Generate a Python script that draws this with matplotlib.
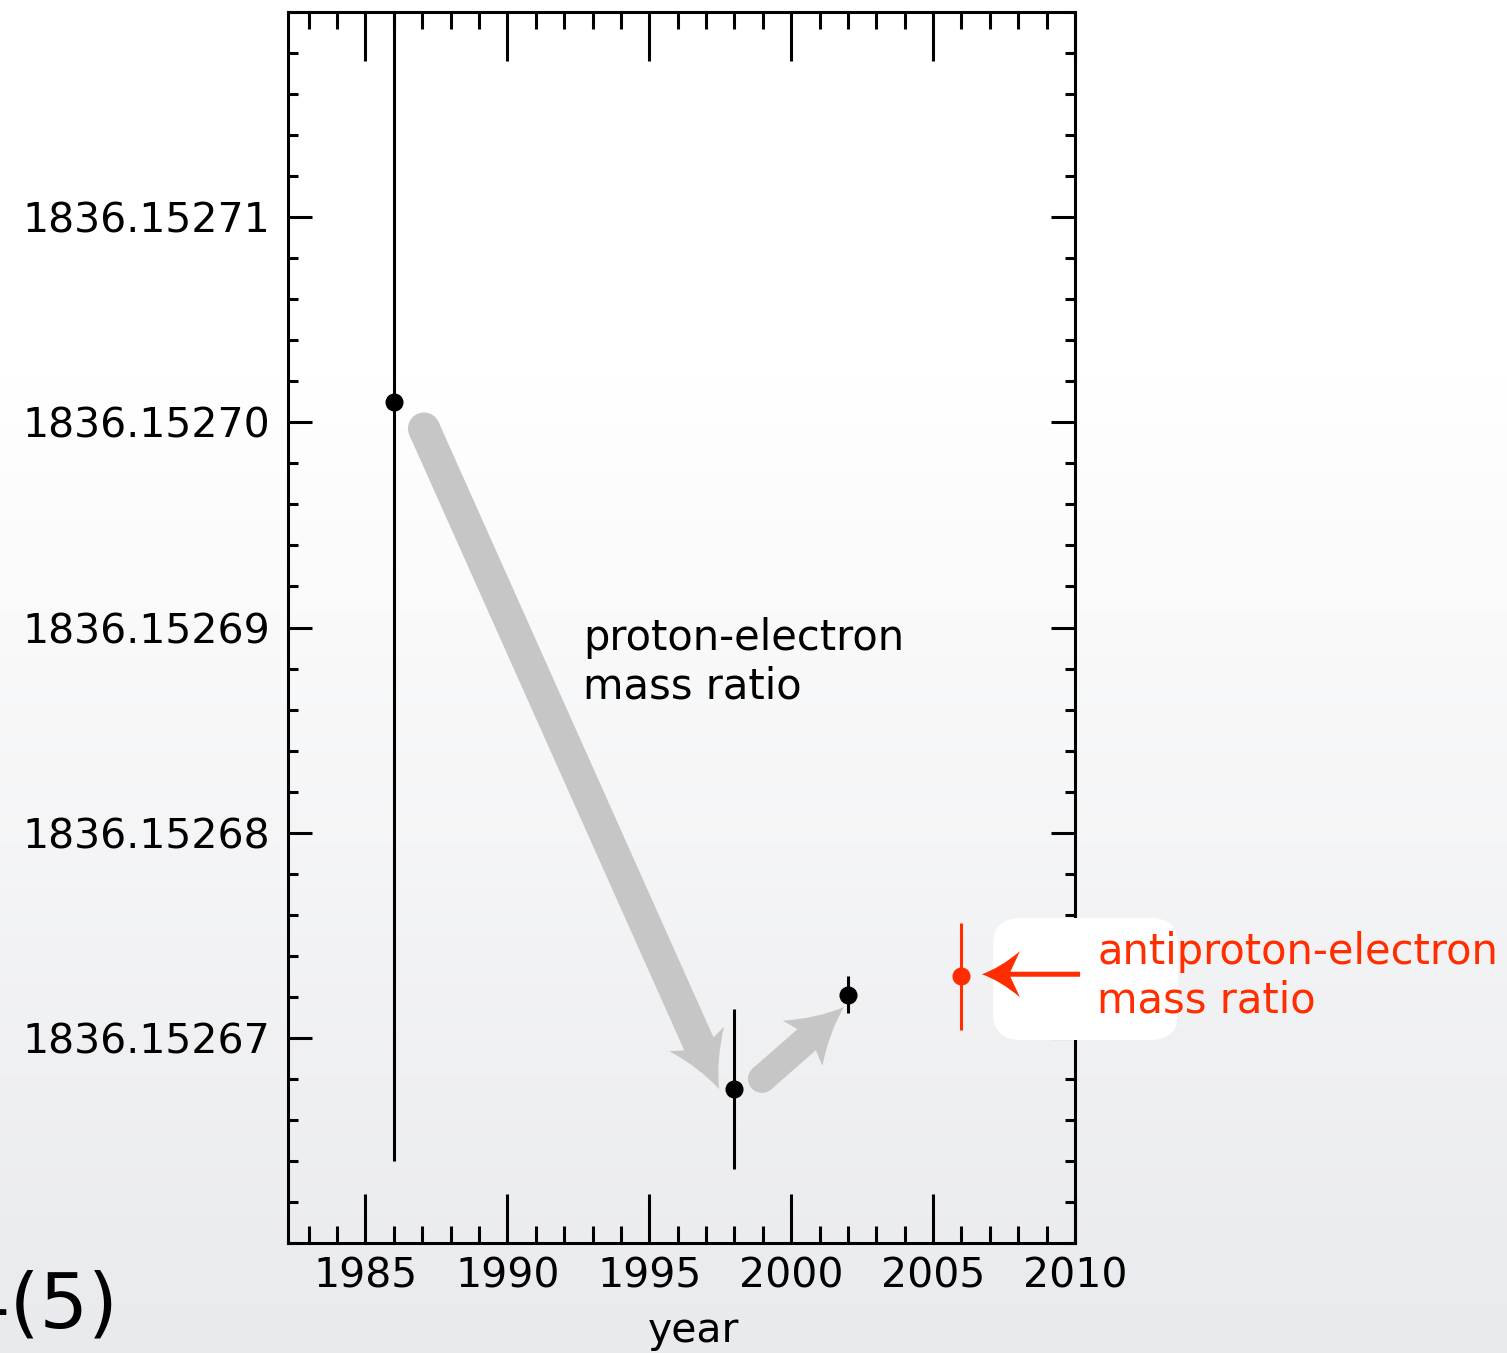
import numpy as np
import matplotlib
matplotlib.use('Agg')
import matplotlib.pyplot as plt
from matplotlib.patches import PathPatch, Circle, FancyBboxPatch
from matplotlib.path import Path
from matplotlib.transforms import IdentityTransform
from matplotlib.ticker import MultipleLocator

# proton-electron mass ratio (CODATA adjustments)
years = [1986, 1998, 2002]
ratio = [1836.152701, 1836.1526675, 1836.1526721]
ratio_err = [0.000037, 0.0000039, 0.0000009]

# antiproton-electron mass ratio
pbar_year = [2006]
pbar_ratio = [1836.152673]
pbar_err = [0.0000026]

xticks = [1985, 1990, 1995, 2000, 2005, 2010]
ytick_labels = ['1836.15267', '1836.15268', '1836.15269', '1836.15270', '1836.15271']

RED = '#ff2d00'
GRAY = '#c6c6c6'


def block_arrow(ax, start, end, shaft, head_len, head_half, neck, color, z, round_tail=True):
    # arrow built in pixel space so the head keeps its shape
    p0 = ax.transData.transform(start)
    p1 = ax.transData.transform(end)
    d = (p1 - p0) / np.hypot(*(p1 - p0))
    n = np.array([-d[1], d[0]])
    nk = p1 - neck * head_len * d
    back = p1 - head_len * d
    mid = p1 - 0.5 * head_len * d
    verts = [p0 + shaft / 2 * n, nk + shaft / 2 * n, back + head_half * n,
             mid + 0.3 * head_half * n, p1,
             mid - 0.3 * head_half * n, back - head_half * n,
             nk - shaft / 2 * n, p0 - shaft / 2 * n, p0 + shaft / 2 * n]
    codes = [Path.MOVETO, Path.LINETO, Path.LINETO, Path.CURVE3, Path.CURVE3,
             Path.CURVE3, Path.CURVE3, Path.LINETO, Path.LINETO, Path.CLOSEPOLY]
    ax.add_patch(PathPatch(Path(verts, codes), facecolor=color, lw=0,
                           transform=IdentityTransform(), clip_on=False, zorder=z))
    if round_tail:
        ax.add_patch(Circle(p0, shaft / 2, facecolor=color, lw=0,
                            transform=IdentityTransform(), clip_on=False, zorder=z))


fig = plt.figure(figsize=(15.07, 13.53), dpi=100)

# slide background gradient
bg = fig.add_axes([0, 0, 1, 1], zorder=-10)
rows = np.arange(1353)
t = np.clip((rows - 380) / (1353 - 380), 0, 1)
top = np.array([1.0, 1.0, 1.0])
bottom = np.array([233, 234, 237]) / 255
grad = top[None, :] * (1 - t[:, None]) + bottom[None, :] * t[:, None]
bg.imshow(grad[:, None, :], aspect='auto', extent=[0, 1, 0, 1], origin='upper')
bg.axis('off')

ax = fig.add_axes([288 / 1507, 110 / 1353, 787 / 1507, 1231 / 1353])
ax.set_facecolor('none')

ax.errorbar(years, ratio, yerr=ratio_err, fmt='o', color='black', ms=12,
            elinewidth=2.2, capsize=0, zorder=3)
ax.errorbar(pbar_year, pbar_ratio, yerr=pbar_err, fmt='o', color=RED, ms=12,
            elinewidth=2.2, capsize=0, zorder=3)

ax.set_xlim(1982.27, 2010)
ax.set_ylim(1836.15266, 1836.15272)

ax.set_xticks(xticks)
ax.set_xticklabels([str(x) for x in xticks])
ax.xaxis.set_minor_locator(MultipleLocator(1))
ax.set_yticks([float(s) for s in ytick_labels])
ax.set_yticklabels(ytick_labels)
ax.yaxis.set_minor_locator(MultipleLocator(2e-6))

ax.tick_params(axis='both', which='both', direction='in', top=True, right=True,
               width=2.2, color='black')
ax.tick_params(axis='x', which='major', length=35, pad=10, labelsize=29.5)
ax.tick_params(axis='x', which='minor', length=12)
ax.tick_params(axis='y', which='major', length=17, pad=13, labelsize=29.5)
ax.tick_params(axis='y', which='minor', length=7)
for s in ax.spines.values():
    s.set_linewidth(2.2)

ax.set_xlabel('year', fontsize=29.5, labelpad=10, x=0.515)

ax.text(1992.665, 1836.1526905, 'proton-electron\nmass ratio', fontsize=30,
        va='top', ha='left', linespacing=1.2)

# white rounded box behind the antiproton label
box = FancyBboxPatch((993 / 1507, 313 / 1353), 185 / 1507, 122 / 1353,
                     boxstyle='round,pad=0,rounding_size=0.018',
                     mutation_aspect=1507 / 1353, facecolor='white', lw=0,
                     transform=fig.transFigure, clip_on=False, zorder=3.5)
ax.add_patch(box)

ax.text(2010.78, 1836.1526752, 'antiproton-electron\nmass ratio', fontsize=30,
        color=RED, va='top', ha='left', linespacing=1.2, zorder=5, clip_on=False)

block_arrow(ax, (1987.06, 1836.1526997), (1997.46, 1836.1526675),
            32, 55, 30, 0.9, GRAY, 1.5)
block_arrow(ax, (1998.97, 1836.1526680), (2001.86, 1836.1526715),
            28, 55, 30, 0.9, GRAY, 1.5)
block_arrow(ax, (2010.18, 1836.1526731), (2006.72, 1836.1526731),
            5, 38, 23, 0.75, RED, 4, round_tail=False)

fig.text(118 / 1507, 26 / 1353, '4(5)', fontsize=55, ha='right', va='baseline')

fig.savefig('out.png', dpi=100)
